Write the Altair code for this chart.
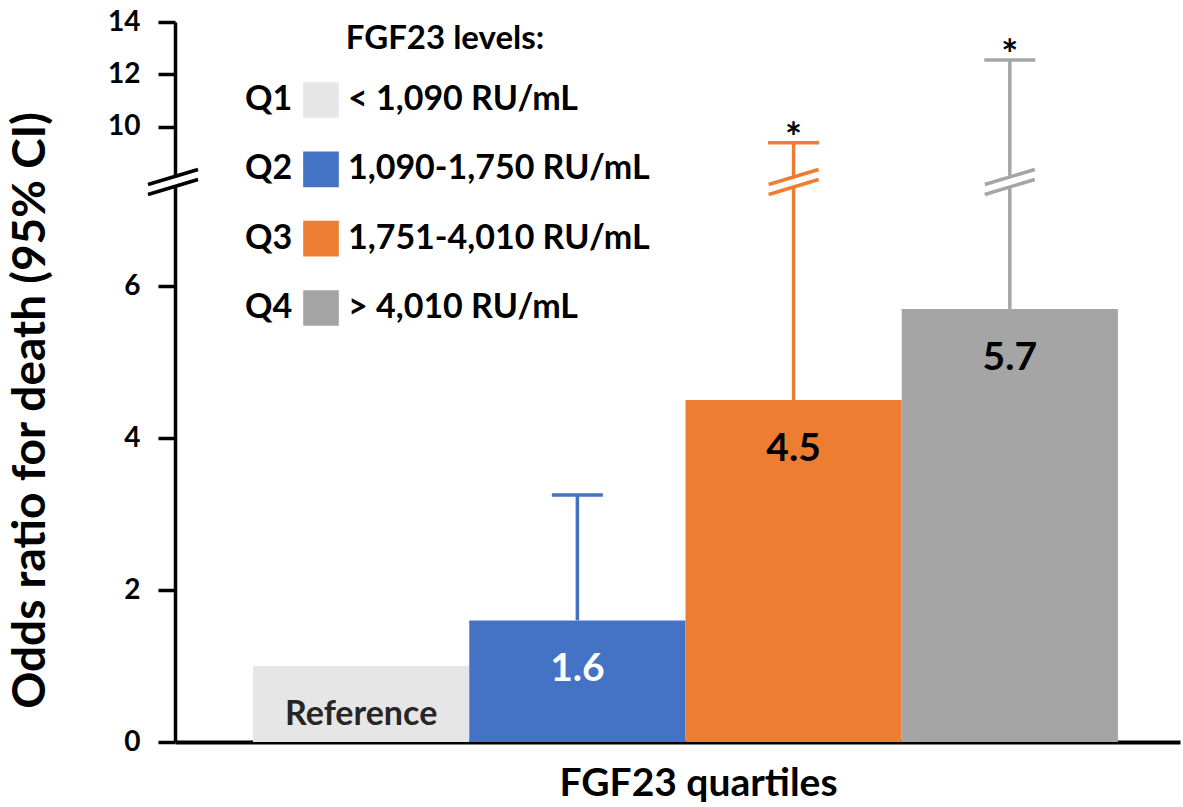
import altair as alt
import pandas as pd

# Odds ratio for death by FGF23 quartile, with upper 95% CI
quartiles = ["Q1", "Q2", "Q3", "Q4"]
odds_ratio = [1.0, 1.6, 4.5, 5.7]
ci_upper = [None, 3.25, 9.40, 12.55]
bar_labels = ["Reference", "1.6", "4.5", "5.7"]
label_colors = ["#262626", "#FFFFFF", "#000000", "#000000"]
label_sizes = [34, 39, 39, 39]
significant = ["", "", "*", "*"]
level_ranges = ["< 1,090 RU/mL", "1,090-1,750 RU/mL", "1,751-4,010 RU/mL", "> 4,010 RU/mL"]
bar_colors = ["#E7E6E6", "#4472C4", "#ED7D31", "#A5A5A5"]
y_ticks = [0, 2, 4, 6, 10, 12, 14]

# broken axis: 0..7.37 in the lower part, 7.9..14 in the upper part
BREAK_LO, BREAK_HI = 7.37, 7.9

FONT = "Lato"

df = pd.DataFrame({
    "q": quartiles,
    "or": odds_ratio,
    "hi": ci_upper,
    "label": bar_labels,
    "label_color": label_colors,
    "label_size": label_sizes,
    "star": significant,
})
ci = df.dropna(subset=["hi"])
stars = df[df["star"] != ""]
breaks = pd.DataFrame({"q": ["Q3", "Q4"], "y": [BREAK_LO, BREAK_LO]})
axis_break = pd.DataFrame({"y": [BREAK_LO]})
legend_df = pd.DataFrame({"q": quartiles, "desc": level_ranges})

x_enc = alt.X(
    "q:N",
    scale=alt.Scale(domain=quartiles, paddingInner=0, paddingOuter=0.324, align=0.557),
    axis=alt.Axis(
        title="FGF23 quartiles", labels=False, ticks=False,
        domainColor="black", domainWidth=4,
        titleFont=FONT, titleFontSize=39, titleFontWeight="bold", titleColor="black",
        titleX=523, titleY=41, titleBaseline="middle", titleAlign="center",
    ),
)
y_scale = alt.Scale(domain=[0, BREAK_LO, BREAK_HI, 14], range=[720, 160, 160, 0],
                    nice=False, zero=False)
color_scale = alt.Scale(domain=quartiles, range=bar_colors)

bars = alt.Chart(df).mark_bar(opacity=1).encode(
    x=x_enc,
    y=alt.Y(
        "or:Q", scale=y_scale,
        axis=alt.Axis(
            title="Odds ratio for death (95% CI)", values=y_ticks, grid=False,
            domainColor="black", domainWidth=3.5, tickColor="black", tickWidth=3.5,
            tickSize=17, labelPadding=18, labelFont=FONT, labelFontSize=28,
            labelFontWeight="bold", labelColor="black", labelOverlap=False,
            titleFont=FONT, titleFontSize=46, titleFontWeight="bold", titleColor="black",
            titleAngle=270, titleX=-145, titleY=388, titleAlign="center",
            titleBaseline="middle",
        ),
    ),
    color=alt.Color("q:N", scale=color_scale, legend=None),
)

err_line = alt.Chart(ci).mark_rule(strokeWidth=3.5).encode(
    x=alt.X("q:N"), y=alt.Y("or:Q", scale=y_scale), y2="hi:Q",
    color=alt.Color("q:N", scale=color_scale, legend=None),
)
err_cap = alt.Chart(ci).mark_tick(orient="horizontal", size=51, thickness=3.5, opacity=1).encode(
    x=alt.X("q:N"), y=alt.Y("hi:Q", scale=y_scale),
    color=alt.Color("q:N", scale=color_scale, legend=None),
)

GAP_PATH = "M -1 0.1 L 1 -0.5 L 1 -0.1 L -1 0.5 Z"
SLASH_PATH = "M -1 0.1 L 1 -0.5 M -1 0.5 L 1 -0.1"

err_gap = alt.Chart(breaks).mark_point(shape=GAP_PATH, filled=True, size=2500, opacity=1,
                                       color="white", strokeWidth=0).encode(
    x=alt.X("q:N"), y=alt.Y("y:Q", scale=y_scale),
)
err_slash = alt.Chart(breaks).mark_point(shape=SLASH_PATH, filled=False, size=2500,
                                         opacity=1, strokeWidth=3.5).encode(
    x=alt.X("q:N"), y=alt.Y("y:Q", scale=y_scale),
    color=alt.Color("q:N", scale=color_scale, legend=None),
)
ax_gap = alt.Chart(axis_break).mark_point(shape=GAP_PATH, filled=True, size=2500, opacity=1,
                                          color="white", strokeWidth=0).encode(
    x=alt.value(-2), y=alt.Y("y:Q", scale=y_scale),
)
ax_slash = alt.Chart(axis_break).mark_point(shape=SLASH_PATH, filled=False, size=2500,
                                            opacity=1, stroke="black", strokeWidth=3.5).encode(
    x=alt.value(-2), y=alt.Y("y:Q", scale=y_scale),
)

star_text = alt.Chart(stars).mark_text(font=FONT, fontSize=40, fontWeight="bold",
                                       baseline="alphabetic", dy=9, color="black").encode(
    x=alt.X("q:N"), y=alt.Y("hi:Q", scale=y_scale), text="star:N",
)
value_text = alt.Chart(df).mark_text(font=FONT, fontWeight="bold",
                                     baseline="middle", dy=49).encode(
    x=alt.X("q:N"), y=alt.Y("or:Q", scale=y_scale), text="label:N",
    color=alt.Color("label_color:N", scale=None),
    size=alt.Size("label_size:Q", scale=None),
)

main = alt.layer(bars, err_line, err_cap, err_gap, err_slash, ax_gap, ax_slash,
                 star_text, value_text)

# legend block in the upper left corner
leg_y = alt.Y("q:N", scale=alt.Scale(type="point", domain=quartiles, range=[78, 286],
                                     padding=0), axis=None)
leg_title = alt.Chart(pd.DataFrame({"t": ["FGF23 levels:"]})).mark_text(
    font=FONT, fontSize=33, fontWeight="bold", color="black", align="center",
    baseline="middle").encode(x=alt.value(270), y=alt.value(17), text="t:N")
leg_q = alt.Chart(legend_df).mark_text(font=FONT, fontSize=34, fontWeight="bold",
                                       color="black", align="left", baseline="middle").encode(
    x=alt.value(70), y=leg_y, text="q:N")
leg_sw = alt.Chart(legend_df).mark_square(size=1270, opacity=1).encode(
    x=alt.value(146), y=leg_y,
    color=alt.Color("q:N", scale=color_scale, legend=None))
leg_desc = alt.Chart(legend_df).mark_text(font=FONT, fontSize=34, fontWeight="bold",
                                          color="black", align="left", baseline="middle").encode(
    x=alt.value(173), y=leg_y, text="desc:N")
legend = alt.layer(leg_title, leg_q, leg_sw, leg_desc)

chart = alt.layer(main, legend).resolve_scale(y="independent").properties(
    width=1005, height=720,
    autosize=alt.AutoSizeParams(type="none"),
    padding={"left": 175, "top": 22, "right": 3, "bottom": 65},
    background="white",
).configure_view(stroke=None)

chart.save("out.html", embed_options={"renderer": "svg", "actions": False})
